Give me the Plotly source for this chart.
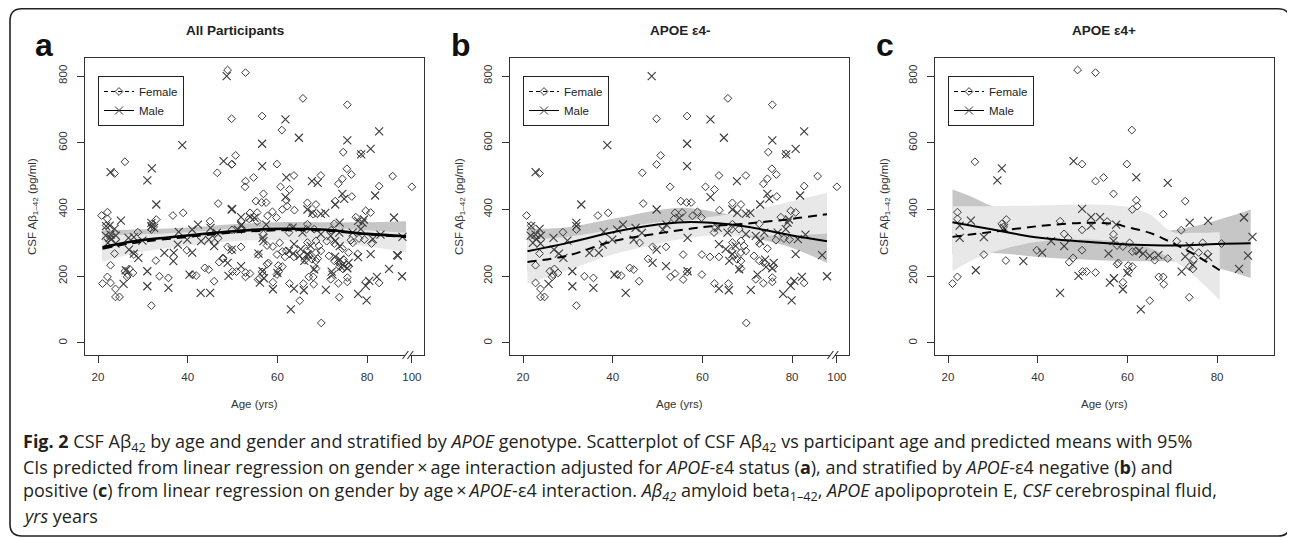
import plotly.graph_objects as go

# The page body has an 8px default margin, so the figure is sized to the
# remaining viewport and every page-pixel position is shifted by OFF.
OFF = 8
FW, FH = 1295 - OFF, 538 - OFF

# ---------------- data ----------------
# Panel b : APOE e4- ; Panel c : APOE e4+ ; Panel a = b + c
B_FEMALE_AGE = [20.8, 21.8, 22.8, 23.7, 22.8, 23.9, 23.9, 24.8, 23.7, 26.0, 26.7, 27.0, 26.5, 27.8, 28.9,
                31.9, 31.9, 33.7, 35.7, 36.7, 39.0, 41.0, 41.9, 43.8, 44.7, 45.9, 46.0, 46.6, 46.8, 47.9,
                48.9, 49.8, 49.8, 50.7, 51.9, 52.9, 53.9, 52.8, 53.9, 53.7, 55.2, 55.7, 55.7, 56.5, 57.5,
                55.5, 57.8, 58.9, 59.8, 56.6, 59.9, 59.9, 56.6, 60.7, 62.7, 61.7, 63.7, 62.7, 63.7, 63.8,
                62.6, 63.0, 65.7, 65.8, 66.7, 68.6, 66.7, 66.5, 68.2, 66.7, 68.6, 69.3, 66.5, 67.1, 68.6,
                69.7, 67.7, 68.6, 68.6, 69.7, 69.8, 71.5, 72.7, 73.6, 71.9, 73.6, 75.6, 75.6, 72.7, 74.7,
                75.5, 76.5, 73.6, 74.5, 76.6, 75.6, 77.5, 79.7, 80.8, 78.6, 75.9, 72.7, 74.5, 76.4, 78.2,
                79.4, 79.7, 82.7, 82.7, 85.7, 100]
B_FEMALE_VAL = [382, 352, 233, 268, 180, 162, 138, 138, 508, 215, 205, 222, 198, 210, 332,
                112, 340, 200, 195, 382, 390, 205, 202, 225, 220, 185, 300, 510, 418, 252,
                288, 672, 535, 562, 288, 198, 208, 468, 390, 372, 425, 190, 265, 421, 421,
                391, 381, 393, 376, 680, 265, 205, 213, 468, 460, 258, 258, 178, 502, 398,
                331, 346, 733, 178, 420, 415, 356, 341, 341, 301, 306, 291, 276, 261, 271,
                276, 251, 246, 223, 502, 60, 261, 246, 241, 191, 179, 196, 183, 357, 572,
                522, 505, 477, 492, 439, 714, 377, 396, 391, 567, 230, 298, 283, 308, 313,
                310, 183, 470, 180, 500, 468]
B_MALE_AGE = [22.8, 21.8, 21.7, 22.2, 22.8, 23.0, 23.7, 24.0, 23.9, 25.7, 26.8, 26.9, 28.0, 29.0, 29.9,
              31.0, 31.0, 31.9, 31.9, 33.0, 35.7, 34.8, 36.9, 37.8, 38.0, 39.9, 38.8, 40.4, 41.0, 42.3,
              42.9, 44.7, 45.1, 46.5, 48.9, 49.8, 49.8, 48.7, 51.9, 51.2, 52.0, 54.9, 56.7, 56.7, 56.6,
              56.6, 61.8, 61.8, 64.8, 63.4, 63.7, 65.9, 67.7, 66.7, 67.8, 69.7, 65.6, 69.7, 63.7, 65.2,
              67.4, 66.0, 68.2, 66.7, 70.8, 70.7, 71.9, 73.8, 72.9, 74.5, 74.9, 72.9, 74.0, 75.9, 75.6,
              72.3, 74.2, 78.0, 79.3, 79.0, 78.6, 76.8, 78.7, 75.6, 79.9, 79.7, 80.5, 81.8, 80.8, 82.7,
              80.8, 82.2, 83.0, 81.3, 86.7, 87.8]
B_MALE_VAL = [512, 350, 322, 300, 325, 312, 342, 322, 298, 177, 315, 280, 268, 255, 307,
              215, 170, 360, 350, 415, 165, 270, 270, 295, 333, 310, 593, 205, 340, 355,
              150, 310, 345, 330, 240, 280, 400, 800, 230, 340, 355, 375, 215, 315, 597,
              530, 670, 437, 615, 346, 163, 158, 485, 400, 390, 387, 331, 326, 296, 281,
              291, 246, 221, 266, 159, 390, 321, 331, 415, 447, 432, 305, 250, 240, 224,
              205, 228, 147, 370, 361, 341, 331, 565, 607, 128, 171, 186, 442, 582, 634,
              266, 198, 325, 311, 263, 200]

C_FEMALE_AGE = [22.1, 22.1, 21.0, 22.1, 28.0, 26.0, 32.0, 33.0, 32.4, 32.9, 39.8, 45.0, 45.9, 46.8, 49.9,
                49.9, 47.0, 47.9, 50.0, 50.9, 52.9, 48.9, 52.9, 49.9, 52.9, 54.7, 55.5, 56.9, 56.9, 59.9,
                61.0, 62.0, 61.1, 62.2, 68.0, 72.9, 72.0, 71.0, 76.8, 81.0, 57.7, 59.0, 60.5, 61.1, 62.0,
                66.1, 69.0, 57.7, 60.2, 61.1, 60.3, 59.0, 67.0, 68.0, 68.1, 65.0, 73.8, 73.9, 74.6, 75.9,
                74.8, 77.9, 58.0]
C_FEMALE_VAL = [392, 372, 178, 198, 265, 543, 357, 370, 348, 247, 278, 365, 327, 314, 339,
                278, 242, 255, 214, 214, 211, 818, 810, 536, 485, 496, 364, 326, 447, 536,
                638, 428, 400, 410, 386, 425, 338, 305, 300, 298, 292, 289, 300, 274, 276,
                248, 253, 236, 232, 229, 214, 182, 198, 198, 176, 127, 137, 229, 222, 271,
                250, 267, 240]
C_MALE_AGE = [25.1, 22.6, 22.6, 28.0, 26.2, 32.5, 32.0, 31.0, 36.8, 41.0, 43.0, 45.0, 45.9, 49.9, 48.0,
              51.9, 53.9, 51.9, 49.1, 62.0, 69.0, 57.5, 56.9, 55.8, 63.5, 65.0, 66.9, 56.1, 57.0, 59.0,
              63.0, 72.1, 72.9, 73.9, 78.0, 73.9, 78.0, 86.0, 87.9, 86.9, 84.9, 60.0, 74.6, 62.6]
C_MALE_VAL = [367, 352, 315, 317, 218, 345, 523, 487, 245, 271, 305, 150, 290, 402, 545,
              377, 377, 352, 201, 496, 480, 355, 305, 268, 268, 261, 263, 181, 194, 161,
              101, 214, 259, 290, 257, 361, 366, 376, 318, 262, 222, 210, 234, 276]

# predicted means and 95% CI
A_FIT_AGE = [21, 28, 40, 50, 60, 70, 80, 88.7]
A_MALE_FIT = [287, 305, 322, 335, 342, 340, 327, 320]
A_MALE_LO = [250, 275, 300, 315, 322, 318, 300, 285]
A_MALE_HI = [338, 340, 346, 356, 362, 362, 362, 365]
A_FEMALE_FIT = [283, 300, 318, 331, 338, 337, 326, 318]
A_FEMALE_LO = [243, 268, 292, 305, 308, 305, 290, 272]
A_FEMALE_HI = [325, 325, 332, 342, 348, 346, 338, 330]

B_FIT_AGE = [21, 30, 40, 50, 56, 62, 70, 80, 87.8]
B_MALE_FIT = [275, 300, 332, 355, 362, 360, 348, 322, 305]
B_MALE_HI = [342, 347, 372, 398, 405, 395, 375, 350, 340]
B_MALE_LO = [215, 255, 295, 318, 325, 328, 318, 285, 240]
B_FEMALE_FIT = [243, 262, 305, 328, 340, 350, 358, 372, 386]
B_FEMALE_HI = [310, 318, 340, 362, 366, 378, 395, 425, 450]
B_FEMALE_LO = [178, 218, 265, 297, 313, 322, 322, 322, 328]

C_MALE_FIT_AGE = [21, 25, 30, 40, 50, 60, 68, 72, 80, 87.5]
C_MALE_FIT = [362, 352, 340, 316, 304, 295, 292, 292, 297, 299]
C_MALE_HI = [460, 440, 410, 385, 365, 345, 335, 342, 368, 400]
C_MALE_LO = [265, 267, 270, 258, 250, 245, 245, 243, 225, 195]
C_FEMALE_FIT_AGE = [21, 25, 30, 40, 50, 57, 60, 65, 70, 75, 80.6]
C_FEMALE_FIT = [318, 325, 333, 350, 360, 357, 347, 330, 300, 265, 218]
C_FEMALE_HI = [410, 410, 410, 412, 415, 412, 408, 385, 333, 330, 332]
C_FEMALE_LO = [215, 245, 272, 303, 310, 305, 300, 285, 250, 200, 128]

TITLES = ["All Participants", "APOE \u03b54-", "APOE \u03b54+"]
LETTERS = ["a", "b", "c"]
Y_TICKS = [0, 200, 400, 600, 800]
X_TICKS_BREAK = [20, 40, 60, 80, 90]
X_TICKTEXT_BREAK = ["20", "40", "60", "80", "100"]
X_TICKS_C = [20, 40, 60, 80]
X_TICKTEXT_C = ["20", "40", "60", "80"]

CAPTION = [
    "<b>Fig. 2</b> CSF A\u03b2<sub>42</sub> by age and gender and stratified by <i>APOE</i> genotype. "
    "Scatterplot of CSF A\u03b2<sub>42</sub> vs participant age and predicted means with 95%",
    "CIs predicted from linear regression on gender\u2009\u00d7\u2009age interaction adjusted for "
    "<i>APOE</i>-\u03b54 status (<b>a</b>), and stratified by <i>APOE</i>-\u03b54 negative (<b>b</b>) and",
    "positive (<b>c</b>) from linear regression on gender by age\u2009\u00d7\u2009<i>APOE</i>-\u03b54 interaction. "
    "<i>A\u03b2<sub>42</sub></i> amyloid beta<sub>1\u201342</sub>, <i>APOE</i> apolipoprotein E, "
    "<i>CSF</i> cerebrospinal fluid,",
    "<i>yrs</i> years",
]

# ---------------- styling ----------------
ARIAL = "Arial, 'Liberation Sans', sans-serif"
CAP_FONT = "'Open Sans', 'Noto Sans', sans-serif"
DARK = "#c6c6c6"
LIGHT = "#e8e8e8"
PT = "#3a3a3a"
FRAME = "#333333"

HUNDRED_POS = 90   # axis position used for the "100" tick (axis break)
BREAK_AT = 88.9

PLOT_L = [85, 510, 935]
PLOT_R = [424, 849, 1274]
PLOT_T, PLOT_B = 58, 355
X_RANGE = [17.1, 92.7]
Y_RANGE = [-36, 854]


def xp(px):
    return (px - OFF) / FW


def yp(py):
    return 1 - (py - OFF) / FH


def axis_age(a):
    return HUNDRED_POS if a >= 95 else a


panels = [
    dict(f_age=B_FEMALE_AGE + C_FEMALE_AGE, f_val=B_FEMALE_VAL + C_FEMALE_VAL,
         m_age=B_MALE_AGE + C_MALE_AGE, m_val=B_MALE_VAL + C_MALE_VAL,
         m_fa=A_FIT_AGE, m_fit=A_MALE_FIT, m_lo=A_MALE_LO, m_hi=A_MALE_HI,
         f_fa=A_FIT_AGE, f_fit=A_FEMALE_FIT, f_lo=A_FEMALE_LO, f_hi=A_FEMALE_HI,
         brk=True, wdash=2.2, wsolid=2.6),
    dict(f_age=B_FEMALE_AGE, f_val=B_FEMALE_VAL, m_age=B_MALE_AGE, m_val=B_MALE_VAL,
         m_fa=B_FIT_AGE, m_fit=B_MALE_FIT, m_lo=B_MALE_LO, m_hi=B_MALE_HI,
         f_fa=B_FIT_AGE, f_fit=B_FEMALE_FIT, f_lo=B_FEMALE_LO, f_hi=B_FEMALE_HI,
         brk=True, wdash=2.0, wsolid=2.0),
    dict(f_age=C_FEMALE_AGE, f_val=C_FEMALE_VAL, m_age=C_MALE_AGE, m_val=C_MALE_VAL,
         m_fa=C_MALE_FIT_AGE, m_fit=C_MALE_FIT, m_lo=C_MALE_LO, m_hi=C_MALE_HI,
         f_fa=C_FEMALE_FIT_AGE, f_fit=C_FEMALE_FIT, f_lo=C_FEMALE_LO, f_hi=C_FEMALE_HI,
         brk=False, wdash=2.0, wsolid=2.0),
]

fig = go.Figure()
layout = dict(width=FW, height=FH, margin=dict(l=0, r=0, t=0, b=0),
              paper_bgcolor="white", plot_bgcolor="white", showlegend=True)
annotations = []
shapes = []


def note(text, x, y, size, xanchor="center", yanchor="middle", family=ARIAL, color="#333", **kw):
    d = dict(text=text, x=xp(x), y=yp(y), xref="paper", yref="paper", showarrow=False,
             xanchor=xanchor, yanchor=yanchor, font=dict(family=family, size=size, color=color))
    d.update(kw)
    annotations.append(d)


for i, p in enumerate(panels):
    sfx = "" if i == 0 else str(i + 1)
    xa, ya = "x" + sfx, "y" + sfx
    lg = "legend" + sfx
    common = dict(xaxis=xa, yaxis=ya, hoverinfo="skip", showlegend=False)

    # male CI (dark), then female CI (light) drawn on top
    for fa, lo, hi, col in [(p["m_fa"], p["m_lo"], p["m_hi"], DARK),
                            (p["f_fa"], p["f_lo"], p["f_hi"], LIGHT)]:
        fig.add_trace(go.Scatter(x=fa, y=lo, mode="lines",
                                 line=dict(width=0, shape="spline"), **common))
        fig.add_trace(go.Scatter(x=fa, y=hi, mode="lines", fill="tonexty", fillcolor=col,
                                 line=dict(width=0, shape="spline"), **common))

    # points
    fig.add_trace(go.Scatter(x=[axis_age(a) for a in p["f_age"]], y=p["f_val"], mode="markers",
                             marker=dict(symbol="diamond-open", size=6, color=PT,
                                         line=dict(width=1, color=PT)), **common))
    fig.add_trace(go.Scatter(x=[axis_age(a) for a in p["m_age"]], y=p["m_val"], mode="markers",
                             marker=dict(symbol="x-thin-open", size=8, color=PT,
                                         line=dict(width=1.1, color=PT)), **common))
    # fitted lines
    fig.add_trace(go.Scatter(x=p["f_fa"], y=p["f_fit"], mode="lines",
                             line=dict(color="black", width=p["wdash"], dash="9px,6px", shape="spline"),
                             **common))
    fig.add_trace(go.Scatter(x=p["m_fa"], y=p["m_fit"], mode="lines",
                             line=dict(color="black", width=p["wsolid"], shape="spline"), **common))

    # legend entries
    fig.add_trace(go.Scatter(x=[None], y=[None], mode="lines+markers", name="Female",
                             line=dict(color="black", width=1, dash="4px,3px"),
                             marker=dict(symbol="diamond-open", size=6, color=PT, line=dict(width=1)),
                             xaxis=xa, yaxis=ya, legend=lg, showlegend=True))
    fig.add_trace(go.Scatter(x=[None], y=[None], mode="lines+markers", name="Male",
                             line=dict(color="black", width=1),
                             marker=dict(symbol="x-thin-open", size=8, color=PT, line=dict(width=1)),
                             xaxis=xa, yaxis=ya, legend=lg, showlegend=True))

    layout["xaxis" + sfx] = dict(
        domain=[xp(PLOT_L[i]), xp(PLOT_R[i])], range=X_RANGE, anchor=ya,
        tickmode="array",
        tickvals=X_TICKS_BREAK if p["brk"] else X_TICKS_C,
        ticktext=X_TICKTEXT_BREAK if p["brk"] else X_TICKTEXT_C,
        ticks="outside", ticklen=7, tickwidth=1, tickcolor=FRAME, ticklabelstandoff=4,
        showline=True, mirror=True, linecolor=FRAME, linewidth=1.2,
        showgrid=False, zeroline=False,
        tickfont=dict(family=ARIAL, size=11.5, color="#333"))
    layout["yaxis" + sfx] = dict(
        domain=[yp(PLOT_B), yp(PLOT_T)], range=Y_RANGE, anchor=xa,
        tickmode="array", tickvals=Y_TICKS, tickangle=-90,
        ticks="outside", ticklen=7, tickwidth=1, tickcolor=FRAME, ticklabelstandoff=5,
        showline=True, mirror=True, linecolor=FRAME, linewidth=1.2,
        showgrid=False, zeroline=False,
        tickfont=dict(family=ARIAL, size=11.5, color="#333"))
    layout[lg] = dict(x=xp(PLOT_L[i] + 13), y=yp(76), xanchor="left", yanchor="top",
                      bgcolor="white", bordercolor="#222", borderwidth=1,
                      font=dict(family=ARIAL, size=11.5, color="#222"), traceorder="normal",
                      itemwidth=30, tracegroupgap=0, itemclick=False, itemdoubleclick=False)

    cx = (PLOT_L[i] + PLOT_R[i]) / 2
    note("<b>%s</b>" % TITLES[i], [235, 680, 1104][i], 31, 13.5, color="#222")
    note("<b>%s</b>" % LETTERS[i], [44, 461, 885][i], 45, 32, color="#111")
    note("Age (yrs)", cx, 404, 11.5)
    note("CSF A\u03b2<sub>1\u201342</sub> (pg/ml)", [33, 460, 885][i], 207, 11.5, textangle=-90)

    if p["brk"]:
        yb0, yb1 = yp(PLOT_B + 4), yp(PLOT_B - 4)
        shapes.append(dict(type="path", xref=xa, yref="paper",
                           path="M %f,%f L %f,%f L %f,%f L %f,%f Z" % (
                               BREAK_AT - 1.0, yb0, BREAK_AT + 0.3, yb1,
                               BREAK_AT + 1.4, yb1, BREAK_AT + 0.1, yb0),
                           fillcolor="white", line=dict(width=0)))
        for off in (0.0, 1.1):
            shapes.append(dict(type="line", xref=xa, yref="paper",
                               x0=BREAK_AT - 1.0 + off, y0=yb0, x1=BREAK_AT + 0.3 + off, y1=yb1,
                               line=dict(color=FRAME, width=1.1)))

# caption
for k, line in enumerate(CAPTION):
    note(line, 21, 442 + 24.7 * k, 18, xanchor="left", family=CAP_FONT, color="#231f20", align="left")

# rounded outer border
x0, x1, yt, yb = xp(10), xp(1290), yp(8.8), yp(536)
rx, ry = 12 / FW, 12 / FH
path = ("M %f,%f L %f,%f Q %f,%f %f,%f L %f,%f Q %f,%f %f,%f L %f,%f Q %f,%f %f,%f "
        "L %f,%f Q %f,%f %f,%f Z") % (
    x0 + rx, yt, x1 - rx, yt, x1, yt, x1, yt - ry, x1, yb + ry, x1, yb, x1 - rx, yb,
    x0 + rx, yb, x0, yb, x0, yb + ry, x0, yt - ry, x0, yt, x0 + rx, yt)
shapes.append(dict(type="path", xref="paper", yref="paper", path=path,
                   line=dict(color="#222", width=1.6), layer="above"))

layout["annotations"] = annotations
layout["shapes"] = shapes
fig.update_layout(**layout)
fig.write_html("out.html")
